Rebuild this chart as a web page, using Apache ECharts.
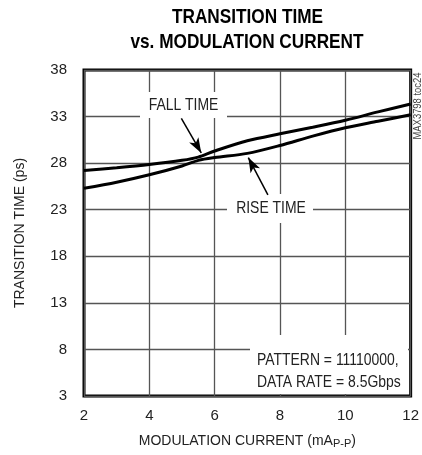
<!DOCTYPE html>
<html>
<head>
<meta charset="utf-8">
<script src="https://cdn.jsdelivr.net/npm/echarts@6/dist/echarts.min.js"></script>
<style>
  html, body { margin: 0; padding: 0; background: #fff; }
  #main { width: 422px; height: 455px; }
</style>
</head>
<body>
<div id="main"></div>
<script type="text/javascript">
    // values
    var modCurrent = [2, 3, 4, 5, 5.5, 6, 7, 8, 9, 10, 11, 12];
    var fallTime = [27.2, 27.5, 27.85, 28.3, 28.65, 29.3, 30.4, 31.15, 31.85, 32.6, 33.5, 34.35];
    var riseTime = [25.3, 25.95, 26.75, 27.7, 28.3, 28.6, 29.05, 29.9, 30.9, 31.8, 32.5, 33.2];
    var xTicks = [2, 4, 6, 8, 10, 12];
    var yTicks = [3, 8, 13, 18, 23, 28, 33, 38];

    // no narrow face installed, so graphic texts get squeezed with scaleX
    var face = "'Liberation Sans', Arial, sans-serif";
    var squeeze = 0.82;

    function pairs(xs, ys) {
        var out = [];
        for (var i = 0; i < xs.length; i++) out.push([xs[i], ys[i]]);
        return out;
    }

    function label(text, x, y, font, align, extra) {
        var el = {
            type: 'text', z: 3, x: x, y: y, scaleX: squeeze,
            style: { text: text, font: font, fill: '#222', align: align || 'center', verticalAlign: 'middle' }
        };
        if (extra) for (var k in extra) el[k] = extra[k];
        return el;
    }

    var lineStyle = { color: '#000', width: 3 };
    var arrowStyle = { color: '#000', width: 1.5, type: 'solid' };

    var myChart = echarts.init(document.getElementById('main'));
    myChart.setOption({
        animation: false,
        grid: {
            left: 84, right: 10.5, top: 70, bottom: 59,
            show: true, borderColor: '#000', borderWidth: 3,
            containLabel: false
        },
        xAxis: {
            type: 'value',
            min: xTicks[0], max: xTicks[xTicks.length - 1], interval: 2,
            axisLine: { show: false },
            axisTick: { show: false },
            splitLine: { lineStyle: { color: '#555', width: 1.3 } },
            axisLabel: { color: '#222', fontFamily: face, fontSize: 15, margin: 12 },
            name: 'MODULATION CURRENT (mA{s|P-P})',
            nameLocation: 'middle',
            nameGap: 37,
            nameTextStyle: {
                color: '#222', fontFamily: face, fontSize: 14,
                rich: {
                    s: { fontFamily: face, fontSize: 11, color: '#222', padding: [5, 0, 0, 0] }
                }
            }
        },
        yAxis: {
            type: 'value',
            min: yTicks[0], max: yTicks[yTicks.length - 1], interval: 5,
            axisLine: { show: false },
            axisTick: { show: false },
            splitLine: { lineStyle: { color: '#555', width: 1.3 } },
            axisLabel: { color: '#222', fontFamily: face, fontSize: 15, margin: 17 },
            name: 'TRANSITION TIME (ps)',
            nameLocation: 'middle',
            nameGap: 57,
            nameTextStyle: { color: '#222', fontFamily: face, fontSize: 14 }
        },
        series: [
            {
                name: 'FALL TIME',
                type: 'line',
                smooth: 0.3,
                symbol: 'none',
                lineStyle: lineStyle,
                data: pairs(modCurrent, fallTime),
                markLine: {
                    silent: true,
                    animation: false,
                    symbolSize: [8, 15],
                    lineStyle: arrowStyle,
                    label: { show: false },
                    data: [
                        [{ coord: [4.98, 32.8], symbol: 'none' }, { coord: [5.59, 29.1], symbol: 'arrow' }]
                    ]
                }
            },
            {
                name: 'RISE TIME',
                type: 'line',
                smooth: 0.3,
                symbol: 'none',
                lineStyle: lineStyle,
                data: pairs(modCurrent, riseTime),
                markLine: {
                    silent: true,
                    animation: false,
                    symbolSize: [8, 15],
                    lineStyle: arrowStyle,
                    label: { show: false },
                    data: [
                        [{ coord: [7.63, 24.6], symbol: 'none' }, { coord: [7.03, 28.6], symbol: 'arrow' }]
                    ]
                }
            }
        ],
        graphic: [
            // title
            {
                type: 'text', z: 10, x: 247.5, y: 17.5, scaleX: squeeze,
                style: { text: 'TRANSITION TIME', font: "bold 21px " + face, fill: '#000', align: 'center', verticalAlign: 'middle' }
            },
            {
                type: 'text', z: 10, x: 247, y: 42.5, scaleX: squeeze,
                style: { text: 'vs. MODULATION CURRENT', font: "bold 21px " + face, fill: '#000', align: 'center', verticalAlign: 'middle' }
            },
            // white boxes behind the notes
            { type: 'rect', z: 1, shape: { x: 140, y: 92, width: 87, height: 26 }, style: { fill: '#fff' } },
            { type: 'rect', z: 1, shape: { x: 227, y: 194, width: 86, height: 29 }, style: { fill: '#fff' } },
            { type: 'rect', z: 1, shape: { x: 250, y: 335, width: 158, height: 59 }, style: { fill: '#fff' } },
            label('FALL TIME', 183.5, 105, "17px " + face),
            label('RISE TIME', 271, 208.5, "17px " + face),
            label('PATTERN = 11110000,', 257, 360, "17px " + face, 'left'),
            label('DATA RATE = 8.5Gbps', 257, 382, "17px " + face, 'left'),
            // part number tag
            {
                type: 'text', z: 3, x: 417.5, y: 106, rotation: Math.PI / 2, scaleX: squeeze,
                style: { text: 'MAX3798 toc24', font: "11.5px " + face, fill: '#444', align: 'center', verticalAlign: 'middle' }
            }
        ]
    });
</script>
</body>
</html>
